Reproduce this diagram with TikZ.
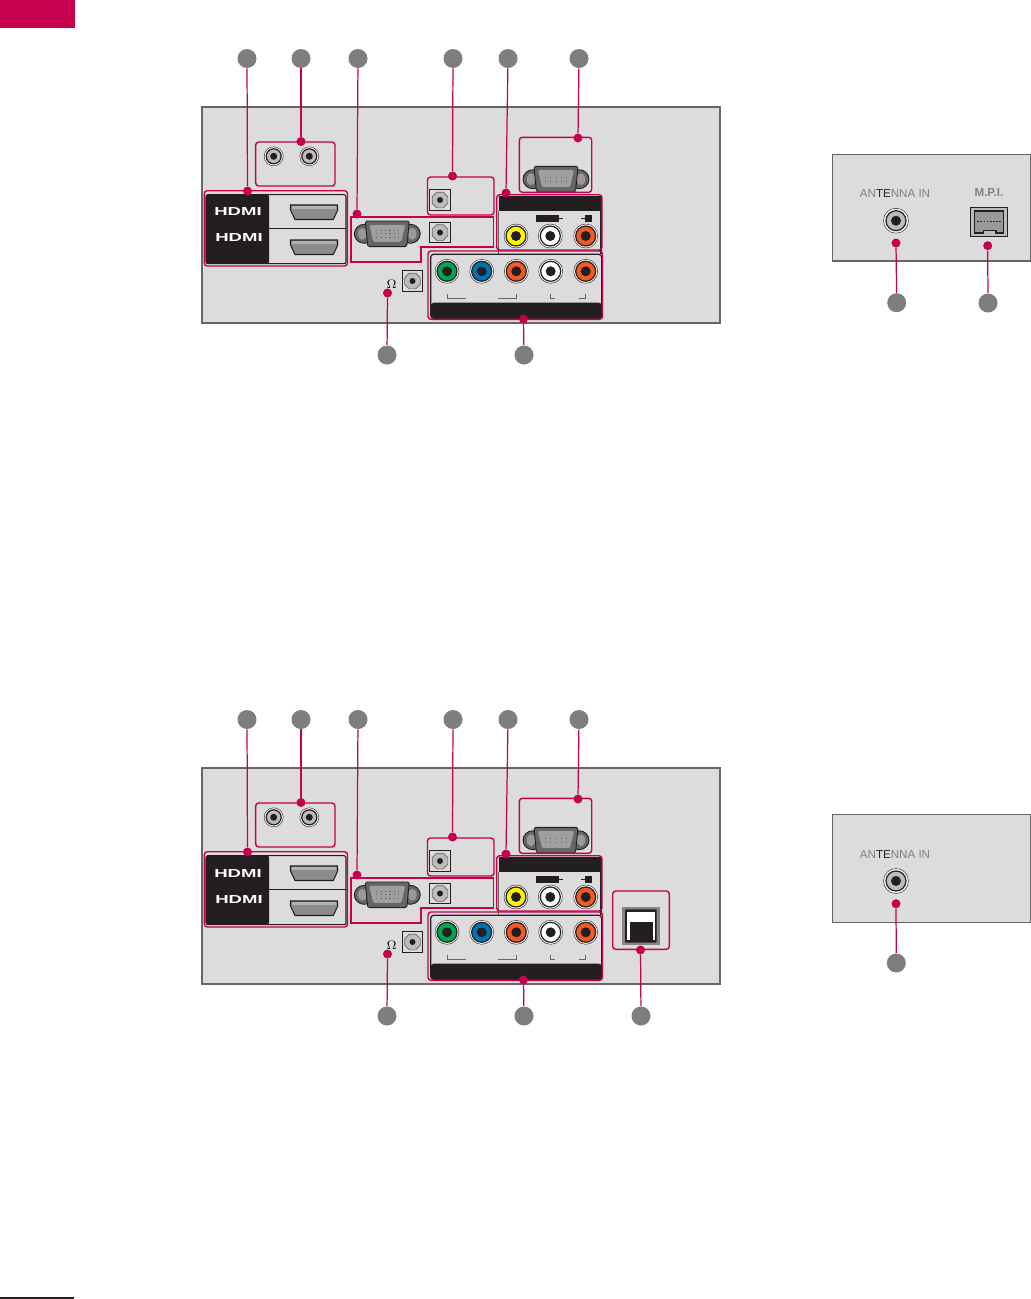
\documentclass[tikz,border=0pt]{standalone}
\usepackage{fontspec}
\usepackage{amsmath}
\usepackage{xcolor}
\usetikzlibrary{shapes.geometric, positioning, calc}
\setmainfont{Liberation Sans}

\definecolor{crimson}{HTML}{C5004C}
\definecolor{panelgray}{HTML}{DCDCDC}
\definecolor{edgegray}{HTML}{666666}
\definecolor{numgray}{HTML}{7F7D7E}
\definecolor{inkblack}{HTML}{231F20}
\definecolor{jackgreen}{HTML}{00A651}
\definecolor{jackblue}{HTML}{0072BC}
\definecolor{jackorange}{HTML}{F15A22}
\definecolor{jackyellow}{HTML}{FFF200}
\definecolor{jacksilver}{HTML}{BDBBBB}

\tikzset{
    panel/.style={draw=edgegray, line width=0.7pt, fill=panelgray},
    numdot/.style={circle, fill=numgray, inner sep=0pt, minimum size=0.38cm},
    tapdot/.style={circle, fill=crimson, inner sep=0pt, minimum size=0.18cm},
    lead/.style={crimson, line width=0.7pt},
    redbox/.style={draw=crimson, line width=0.8pt, rounded corners=0.06cm},
    jackouter/.style={circle, draw=inkblack, line width=0.25pt, fill=white, inner sep=0pt, minimum size=#1*0.02cm},
    jackring/.style={circle, draw=inkblack, line width=0.7pt, inner sep=0pt, minimum size=#1*0.02cm},
    jackpin/.style={circle, fill=inkblack, inner sep=0pt, minimum size=#1*0.02cm},
    optsquare/.style={draw=inkblack, line width=0.5pt, fill=panelgray, inner sep=0pt, minimum size=0.41cm},
    optcore/.style={regular polygon, regular polygon sides=8, draw=edgegray, line width=0.4pt, fill=jacksilver, inner sep=0pt, minimum size=0.34cm},
    dsubear/.style={ellipse, draw=inkblack, line width=0.5pt, fill=edgegray, inner sep=0pt, minimum width=0.4cm, minimum height=0.38cm},
    dsubhole/.style={ellipse, fill=gray!80, inner sep=0pt, minimum width=0.17cm, minimum height=0.24cm},
    bracketline/.style={draw=edgegray, line width=0.5pt},
    hdmilabel/.style={text=white, font=\fontsize{6.6}{7}\selectfont\bfseries, xscale=1.6, inner sep=0pt},
    backlabel/.style={text=gray, font=\fontsize{6.6}{8}\selectfont, inner sep=0pt}
}

\begin{document}
\begin{tikzpicture}[x=0.02cm, y=-0.02cm]
    \useasboundingbox (0,0) rectangle (1031,1299);

    % Page marks
    \fill[crimson] (0,0) rectangle (75,28);
    \draw[inkblack, line width=0.7pt] (0,1298) -- (74,1298);

    % The two main panels
    \foreach \p/\sh in {a/0,b/661} {
    \begin{scope}[shift={(0,\sh)}]
        \draw[panel] (202,107) rectangle (720,323);
        \draw[edgegray, line width=1.1pt] (202,107) -- (202,323);

        % HDMI block
        \draw[inkblack, line width=0.6pt, rounded corners=0.04cm] (206,194.7) rectangle (346,263.7);
        \fill[inkblack, rounded corners=0.04cm] (206,194.7) rectangle (269,263.7);
        \draw[inkblack, line width=0.7pt] (269,228.5) -- (346,228.5);
        \node[hdmilabel] (hdmiup\p) at (238,212) {HDMI};
        \node[hdmilabel] (hdmidown\p) at (239,238) {HDMI};
        \foreach \py in {205,240} {
            \draw[inkblack, line width=0.6pt, fill=gray!90] (290.5,\py) -- (337.7,\py) -- (337.7,\py+5)
                -- (333.3,\py+14.5) -- (295,\py+14.5) -- (290.5,\py+5) -- cycle;
            \fill[gray!60] (292,\py+1) -- (336.2,\py+1) -- (336.2,\py+4) -- (292,\py+4) -- cycle;
        }

        % D-sub connectors
        \foreach \vx/\vy/\vr in {387.3/233.8/3,556/179.2/2} {
        \begin{scope}[shift={(\vx,\vy)}]
            \node[dsubear] (earl\vr\p) at (-23,0) {};
            \node[dsubear] (earr\vr\p) at (23,0) {};
            \node[dsubhole] (holel\vr\p) at (-25,0) {};
            \node[dsubhole] (holer\vr\p) at (25,0) {};
            \draw[inkblack, line width=0.5pt, fill=edgegray, rounded corners=0.03cm] (-22,-12.8) -- (22,-12.8) -- (19.5,12.8) -- (-19.5,12.8) -- cycle;
            \fill[gray!75, rounded corners=0.03cm] (-18,-9) -- (18,-9) -- (14,8) -- (-14,8) -- cycle;
            \ifnum\vr=3
                \foreach \ry in {-3.5,0,3.5} {
                    \draw[inkblack!70, line width=0.5pt, dash pattern=on 0.6pt off 1.9pt] (-11,\ry) -- (11,\ry);
                }
            \else
                \foreach \ry in {-2,2} {
                    \draw[inkblack!70, line width=0.5pt, dash pattern=on 0.6pt off 2.4pt] (-11,\ry) -- (11,\ry);
                }
            \fi
        \end{scope}
        }

        % Optical style square jacks
        \foreach \i/\qx/\qy in {1/440/200,2/440/232.5,3/412.5/281} {
            \node[optsquare] (opt\i\p) at (\qx,\qy) {};
            \node[optcore] (optcore\i\p) at (\qx,\qy) {};
            \node[jackpin=6] (optpin\i\p) at (\qx,\qy) {};
        }
        \node (ohm\p) at (391.7,284) {\fontsize{7}{8}\selectfont$\Omega$};

        % Black heads and bands of the AV blocks
        \fill[inkblack] (498.7,196) rectangle (601,211.3);
        \draw[edgegray, line width=0.5pt] (498.7,211) -- (498.7,254);
        \draw[inkblack, line width=0.8pt] (601,196) -- (601,254);
        \draw[inkblack, line width=0.7pt, rounded corners=0.06cm] (430.7,254.3) rectangle (601.7,318.3);
        \fill[inkblack, rounded corners=0.06cm] (430.7,318.3) -- (430.7,302.7) -- (601.7,302.7) -- (601.7,318.3) -- cycle;
        \fill[inkblack] (536,215) rectangle (559.3,221.7);
        \draw[inkblack, line width=0.5pt] (559.3,218.3) -- (562.7,218.3);
        \fill[inkblack] (585,215) rectangle (591.7,221.7);
        \draw[inkblack, line width=0.5pt] (581,218.3) -- (585,218.3);

        % Round jacks
        \foreach \i/\jx/\jy/\jc in {1/516/236/jackyellow,2/550.3/236/white,3/585.7/236/jackorange,
            4/447/271.3/jackgreen,5/481.7/271.3/jackblue,6/516.3/271.3/jackorange,7/550.7/271.3/white,8/585.7/271.3/jackorange} {
            \node[jackouter=24] (rim\i\p) at (\jx,\jy) {};
            \node[jackring=20, fill=\jc] (ring\i\p) at (\jx,\jy) {};
            \node[jackpin=10] (core\i\p) at (\jx,\jy) {};
        }
        \foreach \i/\jx in {1/273.7,2/309.3} {
            \node[jackouter=19] (auxrim\i\p) at (\jx,156.3) {};
            \node[jackring=15, fill=jacksilver] (auxring\i\p) at (\jx,156.3) {};
            \node[jackpin=7] (auxcore\i\p) at (\jx,156.3) {};
        }

        % Brackets under the jacks
        \draw[bracketline] (447.7,293.5) -- (447.7,298) -- (465.7,298);
        \draw[bracketline] (497.7,298) -- (516.7,298) -- (516.7,293.5);
        \draw[bracketline] (550,293.5) -- (550,298) -- (555,298);
        \draw[bracketline] (579.3,298) -- (585,298) -- (585,293.5);

        % Crimson outlines
        \draw[redbox] (255.7,142) rectangle (335,186);
        \draw[redbox] (204.3,190.7) rectangle (347.5,266);
        \draw[crimson, line width=1pt] (351,217) -- (493.5,217) -- (493.5,246.7) -- (420.7,246.7) -- (420.7,261.7) -- (351,261.7) -- cycle;
        \draw[redbox] (427.5,177) rectangle (494,215);
        \draw[redbox] (519.3,137.3) rectangle (591.7,192.3);
        \draw[redbox] (496.7,194.7) rectangle (602,250);
        \draw[redbox] (428,251) rectangle (602.5,319.3);

        % Numbered markers
        \foreach \i/\nx/\ny/\mx/\my in {1/247/58.5/247.5/191,2/301/58.5/301/141.5,3/358/58.5/357/214,
            4/453/58.5/452.5/176,5/508/58.5/506/193,6/579/58.5/578/138,
            7/387/355/387.5/293,8/524/355/523.5/319} {
            \node[numdot] (num\i\p) at (\nx,\ny) {};
            \node[tapdot] (tap\i\p) at (\mx,\my) {};
            \draw[lead] (num\i\p) -- (tap\i\p);
        }
    \end{scope}
    }

    % LAN port, lower panel only
    \fill[edgegray!80] (622.3,907) rectangle (659.7,944.7);
    \fill[inkblack, rounded corners=0.02cm] (625,909.3) rectangle (656.7,942.7);
    \fill[white] (627.3,911.7) rectangle (655,940);
    \fill[inkblack] (630,922) rectangle (653,940);
    \draw[redbox] (612.7,891) rectangle (669.3,949.3);
    \node[numdot] (num9) at (641,1016) {};
    \node[tapdot] (tap9) at (640.5,950) {};
    \draw[lead] (num9) -- (tap9);

    % Upper side panel
    \draw[panel] (832.7,154.3) rectangle (1030.5,261);
    \node[backlabel] (antlabela) at (895,194) {AN\textcolor{inkblack}{TE}NNA IN};
    \node[jackouter=25] (antrima) at (896,220.7) {};
    \node[jackring=20, fill=jacksilver] (antringa) at (896,220.7) {};
    \node[jackpin=10] (antcorea) at (896,220.7) {};
    \node[backlabel] (mpilabel) at (989,192.7) {\bfseries M.P.I.};
    \draw[inkblack, line width=0.6pt, fill=jacksilver] (970.3,207.3) rectangle (1007.7,236.7);
    \draw[inkblack, line width=0.6pt, fill=gray!80] (974.3,211) -- (1003.7,211) -- (1003.7,233) -- (996,233) -- (996,230.7)
        -- (983.3,230.7) -- (983.3,233) -- (974.3,233) -- cycle;
    \draw[inkblack, line width=0.5pt, dash pattern=on 0.9pt off 0.9pt] (977.3,221.3) -- (1001,221.3);
    \node[numdot] (numanta) at (896.7,302.7) {};
    \node[tapdot] (tapanta) at (896,243) {};
    \draw[lead] (numanta) -- (tapanta);
    \node[numdot] (nummpi) at (988,303) {};
    \node[tapdot] (tapmpi) at (987.7,245.7) {};
    \draw[lead] (nummpi) -- (tapmpi);

    % Lower side panel
    \draw[panel] (832.7,814.3) rectangle (1030.5,922.3);
    \node[backlabel] (antlabelb) at (895,854.5) {AN\textcolor{inkblack}{TE}NNA IN};
    \node[jackouter=25] (antrimb) at (896,881) {};
    \node[jackring=20, fill=jacksilver] (antringb) at (896,881) {};
    \node[jackpin=10] (antcoreb) at (896,881) {};
    \node[numdot] (numantb) at (896.3,963) {};
    \node[tapdot] (tapantb) at (896,903.7) {};
    \draw[lead] (numantb) -- (tapantb);
\end{tikzpicture}
\end{document}
